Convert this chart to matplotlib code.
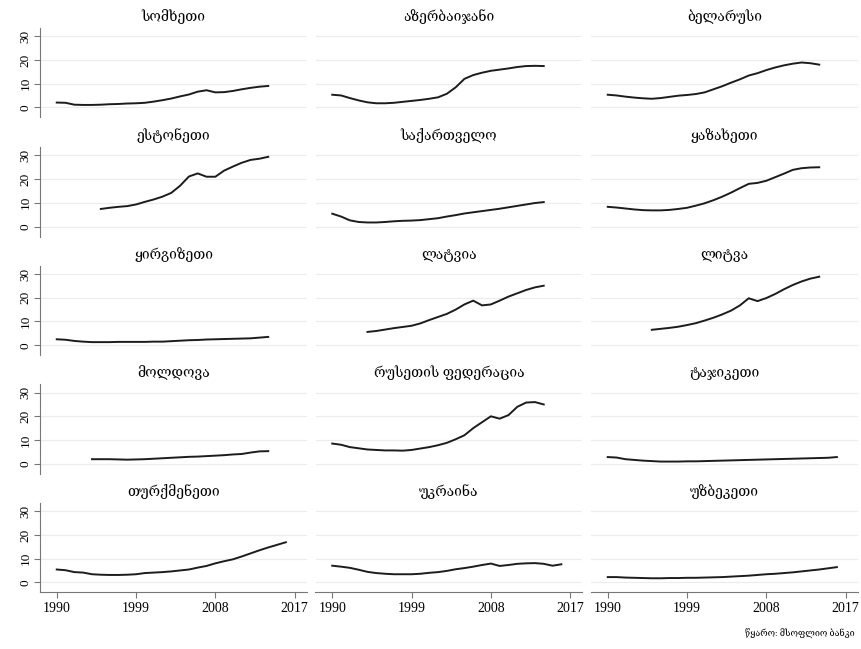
import matplotlib
matplotlib.use('Agg')
import matplotlib.pyplot as plt

plt.rcParams['font.family'] = ['Liberation Serif', 'DejaVu Serif', 'DejaVu Sans']

# titles in panel order (row by row)
titles = ['სომხეთი', 'აზერბაიჯანი', 'ბელარუსი',
          'ესტონეთი', 'საქართველო', 'ყაზახეთი',
          'ყირგიზეთი', 'ლატვია', 'ლიტვა',
          'მოლდოვა', 'რუსეთის ფედერაცია', 'ტაჯიკეთი',
          'თურქმენეთი', 'უკრაინა', 'უზბეკეთი']

# first year of each series
start_years = [1990, 1990, 1990,
               1995, 1990, 1990,
               1990, 1994, 1995,
               1994, 1990, 1990,
               1990, 1990, 1990]

armenia = [2.0, 1.9, 1.1, 1.0, 1.0, 1.1, 1.3, 1.4, 1.6, 1.7, 1.9, 2.4, 3.0, 3.7,
           4.6, 5.4, 6.6, 7.2, 6.3, 6.4, 6.9, 7.6, 8.2, 8.7, 9.0]
azerbaijan = [5.3, 5.0, 3.9, 2.9, 2.1, 1.7, 1.7, 1.9, 2.3, 2.7, 3.1, 3.6, 4.2, 5.7,
              8.4, 12.0, 13.6, 14.6, 15.4, 15.9, 16.4, 17.0, 17.4, 17.5, 17.4]
belarus = [5.3, 5.0, 4.5, 4.1, 3.8, 3.6, 3.9, 4.4, 4.9, 5.2, 5.6, 6.3, 7.6, 8.9,
           10.4, 11.8, 13.4, 14.4, 15.7, 16.8, 17.7, 18.4, 18.9, 18.6, 18.0]
estonia = [7.4, 7.9, 8.3, 8.6, 9.3, 10.4, 11.4, 12.6, 14.2, 17.2, 21.1, 22.4,
           21.0, 21.0, 23.6, 25.3, 26.9, 28.1, 28.6, 29.4]
georgia = [5.4, 4.2, 2.6, 1.9, 1.7, 1.7, 1.9, 2.2, 2.4, 2.5, 2.7, 3.1, 3.5, 4.2,
           4.8, 5.5, 6.0, 6.5, 7.0, 7.5, 8.1, 8.7, 9.3, 9.9, 10.3]
kazakhstan = [8.3, 8.0, 7.6, 7.2, 6.9, 6.8, 6.8, 7.0, 7.4, 7.9, 8.8, 9.8, 11.1,
              12.6, 14.3, 16.2, 18.0, 18.4, 19.3, 20.8, 22.3, 23.9, 24.6, 24.9, 25.0]
kyrgyzstan = [2.5, 2.3, 1.8, 1.5, 1.3, 1.3, 1.3, 1.4, 1.4, 1.4, 1.4, 1.5, 1.5,
              1.7, 1.9, 2.1, 2.2, 2.4, 2.5, 2.6, 2.7, 2.8, 2.9, 3.2, 3.5]
latvia = [5.6, 6.0, 6.6, 7.2, 7.7, 8.2, 9.2, 10.6, 11.9, 13.2, 15.0, 17.2, 18.8,
          16.8, 17.2, 18.8, 20.5, 21.9, 23.3, 24.4, 25.1]
lithuania = [6.5, 6.9, 7.3, 7.8, 8.5, 9.3, 10.4, 11.6, 13.0, 14.6, 16.8, 19.8,
             18.6, 19.9, 21.6, 23.6, 25.4, 26.9, 28.1, 28.9]
moldova = [1.9, 1.9, 1.9, 1.8, 1.7, 1.8, 1.9, 2.1, 2.3, 2.5, 2.7, 2.9, 3.0, 3.2,
           3.4, 3.6, 3.9, 4.1, 4.7, 5.2, 5.3]
russia = [8.5, 8.0, 7.0, 6.5, 6.0, 5.8, 5.6, 5.6, 5.5, 5.8, 6.4, 7.0, 7.8, 8.8,
          10.3, 12.0, 15.0, 17.5, 20.0, 19.0, 20.5, 24.0, 25.8, 26.0, 25.0]
tajikistan = [2.8, 2.6, 1.9, 1.6, 1.3, 1.1, 0.9, 0.9, 0.9, 1.0, 1.0, 1.1, 1.2,
              1.3, 1.4, 1.5, 1.6, 1.7, 1.8, 1.9, 2.0, 2.1, 2.2, 2.3, 2.4, 2.5, 2.8]
turkmenistan = [5.4, 5.1, 4.3, 4.1, 3.4, 3.2, 3.1, 3.1, 3.2, 3.4, 3.9, 4.1, 4.3,
                4.6, 5.0, 5.4, 6.2, 6.9, 8.0, 8.9, 9.7, 10.9, 12.2, 13.5, 14.7,
                15.8, 16.9]
ukraine = [7.0, 6.6, 6.1, 5.3, 4.4, 3.9, 3.6, 3.4, 3.4, 3.4, 3.6, 4.0, 4.3, 4.8,
           5.5, 6.0, 6.6, 7.3, 7.9, 6.9, 7.3, 7.8, 8.0, 8.1, 7.8, 7.0, 7.6]
uzbekistan = [2.2, 2.2, 2.0, 1.9, 1.8, 1.7, 1.7, 1.8, 1.8, 1.9, 1.9, 2.0, 2.1,
              2.2, 2.4, 2.6, 2.8, 3.1, 3.4, 3.6, 3.9, 4.2, 4.6, 5.0, 5.4, 5.9, 6.4]

series = [armenia, azerbaijan, belarus, estonia, georgia, kazakhstan,
          kyrgyzstan, latvia, lithuania, moldova, russia, tajikistan,
          turkmenistan, ukraine, uzbekistan]

x_ticks = [1990, 1999, 2008, 2017]
y_ticks = [0, 10, 20, 30]
source_note = 'წყარო: მსოფლიო ბანკი'

W, H = 862, 649
fig = plt.figure(figsize=(W / 100, H / 100), dpi=100)

col_left = [40, 315.5, 591]
panel_w = 267
zero_y = [107.3, 226.5, 345.2, 463.7, 582.3]
ppu = 2.37
ylo, yhi = -4.3, 33.5

for i, (name, y0, vals) in enumerate(zip(titles, start_years, series)):
    r, c = divmod(i, 3)
    top = zero_y[r] - yhi * ppu
    h = (yhi - ylo) * ppu
    ax = fig.add_axes([col_left[c] / W, 1 - (top + h) / H, panel_w / W, h / H])
    yrs = list(range(y0, y0 + len(vals)))
    ax.plot(yrs, vals, color='#1c1c1c', lw=1.4)
    ax.set_xlim(1988.1, 2018.4)
    ax.set_ylim(ylo, yhi)
    ax.set_xticks(x_ticks)
    ax.set_yticks(y_ticks)
    ax.grid(axis='y', color='#ececec', lw=0.8)
    ax.set_axisbelow(True)
    for s in ['top', 'right']:
        ax.spines[s].set_visible(False)
    ax.spines['left'].set_visible(c == 0)
    ax.spines['bottom'].set_visible(r == 4)
    for s in ['left', 'bottom']:
        ax.spines[s].set_color('#777777')
        ax.spines[s].set_linewidth(0.8)
    ax.tick_params(axis='y', left=(c == 0), labelleft=(c == 0), length=4,
                   color='#777777', labelsize=9.5, pad=2)
    ax.tick_params(axis='x', bottom=(r == 4), labelbottom=(r == 4), length=4,
                   color='#777777', labelsize=10, pad=3)
    for lab in ax.get_yticklabels():
        lab.set_rotation(90)
        lab.set_va('center')
    ax.set_title(name, fontsize=10, pad=5)

fig.text(855 / W, 1 - 633 / H, source_note, ha='right', va='center', fontsize=6.5)

fig.savefig('out.png', dpi=100, facecolor='white')
